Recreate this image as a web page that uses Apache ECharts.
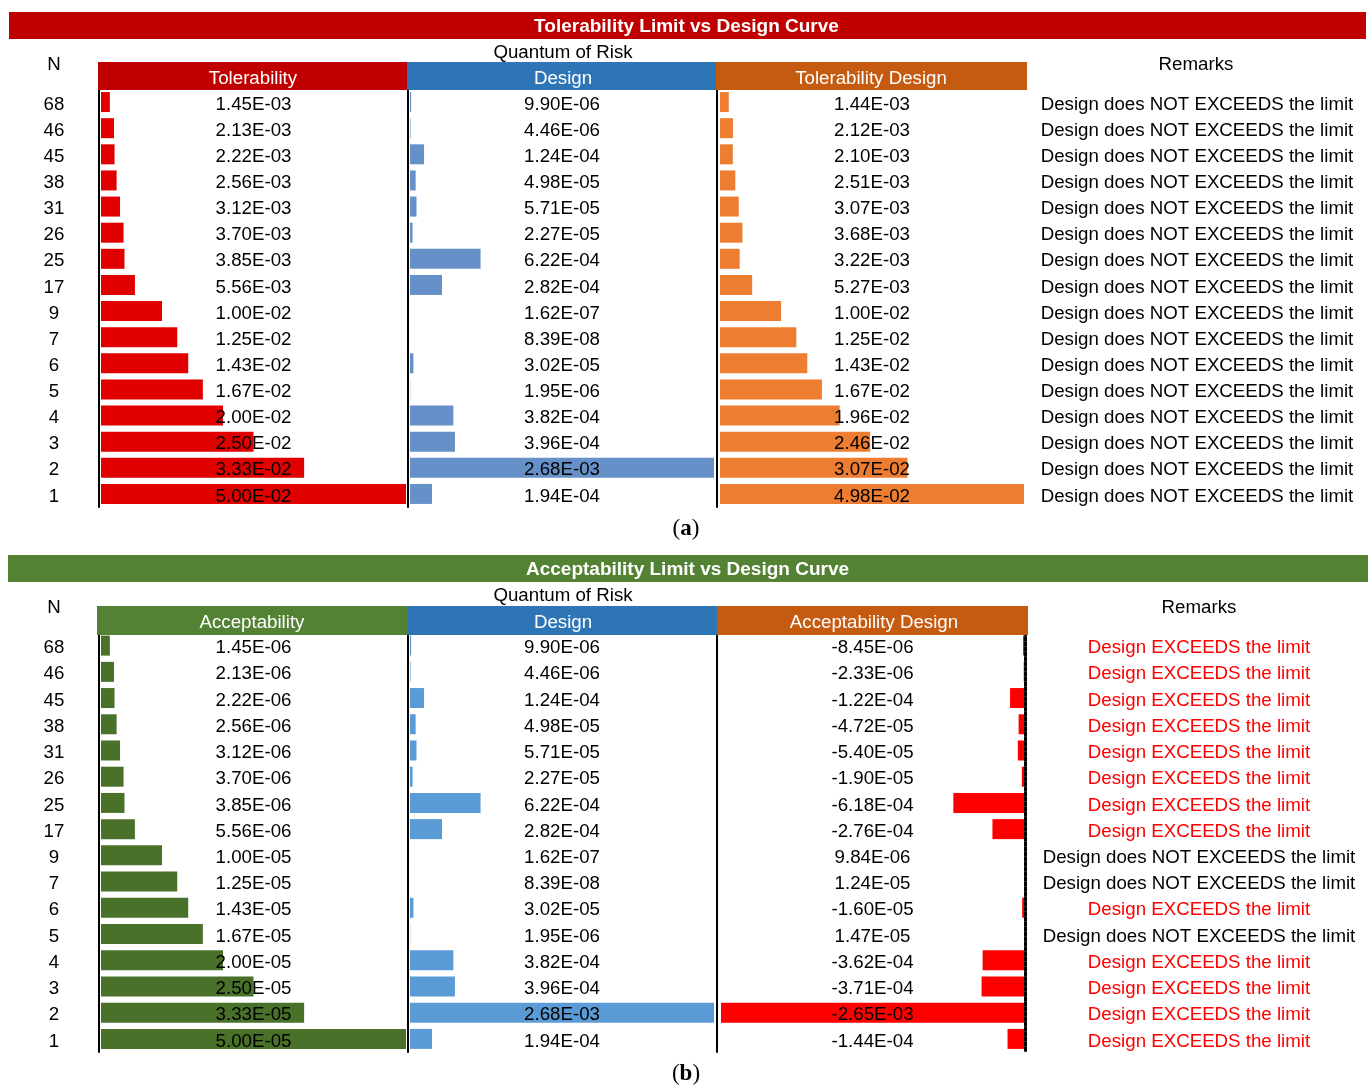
<!DOCTYPE html>
<html>
<head>
<meta charset="utf-8">
<title>Tolerability / Acceptability Limit vs Design Curve</title>
<script src="https://cdn.jsdelivr.net/npm/echarts@6/dist/echarts.min.js"></script>
<style>
  html, body { margin: 0; padding: 0; background: #fff; }
  #chart { width: 1370px; height: 1086px; }
</style>
</head>
<body>
<div id="chart"></div>
<script>
// ---- data ----
const nLabels = ['68', '46', '45', '38', '31', '26', '25', '17', '9', '7', '6', '5', '4', '3', '2', '1'];

const tolerability = [1.45e-3, 2.13e-3, 2.22e-3, 2.56e-3, 3.12e-3, 3.70e-3, 3.85e-3, 5.56e-3,
  1.00e-2, 1.25e-2, 1.43e-2, 1.67e-2, 2.00e-2, 2.50e-2, 3.33e-2, 5.00e-2];

const design = [9.90e-6, 4.46e-6, 1.24e-4, 4.98e-5, 5.71e-5, 2.27e-5, 6.22e-4, 2.82e-4,
  1.62e-7, 8.39e-8, 3.02e-5, 1.95e-6, 3.82e-4, 3.96e-4, 2.68e-3, 1.94e-4];

const tolerabilityDesign = [1.44e-3, 2.12e-3, 2.10e-3, 2.51e-3, 3.07e-3, 3.68e-3, 3.22e-3, 5.27e-3,
  1.00e-2, 1.25e-2, 1.43e-2, 1.67e-2, 1.96e-2, 2.46e-2, 3.07e-2, 4.98e-2];

const acceptability = [1.45e-6, 2.13e-6, 2.22e-6, 2.56e-6, 3.12e-6, 3.70e-6, 3.85e-6, 5.56e-6,
  1.00e-5, 1.25e-5, 1.43e-5, 1.67e-5, 2.00e-5, 2.50e-5, 3.33e-5, 5.00e-5];

const acceptabilityDesign = [-8.45e-6, -2.33e-6, -1.22e-4, -4.72e-5, -5.40e-5, -1.90e-5, -6.18e-4, -2.76e-4,
  9.84e-6, 1.24e-5, -1.60e-5, 1.47e-5, -3.62e-4, -3.71e-4, -2.65e-3, -1.44e-4];

const remarksA = tolerabilityDesign.map(v => v < 0 ? 'Design EXCEEDS the limit' : 'Design does NOT EXCEEDS the limit');
const remarksB = acceptabilityDesign.map(v => v < 0 ? 'Design EXCEEDS the limit' : 'Design does NOT EXCEEDS the limit');

// ---- helpers ----
const FONT = 'Liberation Sans, Arial, sans-serif';
const FS = 18.7;
const DY = 2.5;   // small downward nudge so text sits on the row centre

function sci(v) {
  const parts = v.toExponential(2).split('e');
  const e = parseInt(parts[1], 10);
  return parts[0] + 'E' + (e < 0 ? '-' : '+') + String(Math.abs(e)).padStart(2, '0');
}

const grids = [];
const xAxes = [];
const yAxes = [];
const series = [];

const hiddenBar = (gi, yi, data, label) => ({
  type: 'bar', xAxisIndex: gi, yAxisIndex: yi, data: data,
  barWidth: 20, barGap: '-100%', z: 3, silent: true,
  itemStyle: { color: 'rgba(0,0,0,0)' },
  label: Object.assign({ show: true, color: '#000', fontFamily: FONT, fontSize: FS, offset: [0, DY] }, label)
});

// one bar column: data bars, centred value text, and optional N / remark texts beside it
function addColumn(opt) {
  const gi = grids.length;
  grids.push({ left: opt.left, top: opt.top, width: opt.width, height: opt.height, containLabel: false });
  xAxes.push({ gridIndex: gi, type: 'value', min: opt.min, max: opt.max, show: false });
  const yi = yAxes.length;
  yAxes.push({
    gridIndex: gi, type: 'category', data: nLabels, inverse: true, position: 'left',
    offset: opt.lineOffset,
    axisLine: { show: true, onZero: false, lineStyle: { color: '#000', width: 2 } },
    axisTick: { show: false },
    axisLabel: { show: false },
    splitLine: { show: false }
  });
  if (opt.zeroLine) {
    yAxes.push({
      gridIndex: gi, type: 'category', data: nLabels, inverse: true, position: 'right',
      offset: 1.5,
      axisLine: { show: true, onZero: false, lineStyle: { color: '#000', width: 3, type: [3, 2] } },
      axisTick: { show: false },
      axisLabel: { show: false },
      splitLine: { show: false }
    });
  }
  // value bars
  series.push({
    type: 'bar', xAxisIndex: gi, yAxisIndex: yi, data: opt.values,
    barWidth: 20, barGap: '-100%', z: 2, silent: true,
    itemStyle: { color: opt.color }
  });
  // value text, centred across the column
  const extent = opt.min < 0 ? opt.min : opt.max;
  series.push(hiddenBar(gi, yi, opt.values.map(() => extent), {
    position: 'inside',
    formatter: (p) => sci(opt.values[p.dataIndex])
  }));
  // row numbers to the left of the first column
  if (opt.showN) {
    series.push(hiddenBar(gi, yi, nLabels.map(() => 0), {
      position: 'left', distance: opt.nDistance, align: 'center',
      formatter: (p) => nLabels[p.dataIndex]
    }));
  }
  // remarks to the right of the last column
  if (opt.remarks) {
    const rightEdge = opt.max;
    series.push(hiddenBar(gi, yi, opt.remarks.map((r) => ({
      value: rightEdge,
      label: { color: r.indexOf('NOT') >= 0 ? '#000' : '#FF0000' }
    })), {
      position: 'right', distance: opt.remarkDistance, align: 'center',
      formatter: (p) => opt.remarks[p.dataIndex]
    }));
  }
}

// ---- panel (a): tolerability ----
const topA = 89, hA = 418;
addColumn({ left: 101, top: topA, width: 305, height: hA, min: 0, max: 5.00e-2,
  values: tolerability, color: '#E00000', lineOffset: 2, showN: true, nDistance: 47 });
addColumn({ left: 410, top: topA, width: 304, height: hA, min: 0, max: 2.68e-3,
  values: design, color: '#6690C8', lineOffset: 2 });
addColumn({ left: 720, top: topA, width: 304, height: hA, min: 0, max: 4.98e-2,
  values: tolerabilityDesign, color: '#ED7D31', lineOffset: 3,
  remarks: remarksA, remarkDistance: 173 });

// ---- panel (b): acceptability ----
const topB = 632.5, hB = 419.5;
addColumn({ left: 101, top: topB, width: 305, height: hB, min: 0, max: 5.00e-5,
  values: acceptability, color: '#4A7129', lineOffset: 2.5, showN: true, nDistance: 47 });
addColumn({ left: 410, top: topB, width: 304, height: hB, min: 0, max: 2.68e-3,
  values: design, color: '#5B9BD5', lineOffset: 2 });
addColumn({ left: 721, top: topB, width: 303, height: hB, min: -2.65e-3, max: 0,
  values: acceptabilityDesign, color: '#FF0000', lineOffset: 4,
  remarks: remarksB, remarkDistance: 175, zeroLine: true });

// ---- title bars, column headers and captions ----
function txt(text, x, y, extra) {
  return { type: 'text', z: 10, style: Object.assign({
    text: text, x: x, y: y + 2, align: 'center', verticalAlign: 'middle',
    fontFamily: FONT, fontSize: FS, fill: '#000' }, extra || {}) };
}
function box(x1, x2, y, h, color) {
  return { type: 'rect', z: 5, shape: { x: x1, y: y, width: x2 - x1, height: h }, style: { fill: color } };
}
function caption(letter, x, y) {
  return { type: 'text', z: 10, style: {
    text: '{p|(}{b|' + letter + '}{p|)}', x: x, y: y + 2, align: 'center', verticalAlign: 'middle',
    rich: {
      p: { fontFamily: 'Liberation Serif, serif', fontSize: 23, fill: '#000' },
      b: { fontFamily: 'Liberation Serif, serif', fontSize: 23, fontWeight: 'bold', fill: '#000' }
    } } };
}

const graphics = [
  box(9, 1366, 12, 27, '#C00000'),
  txt('Tolerability Limit vs Design Curve', 686.5, 24.5, { fill: '#fff', fontWeight: 'bold', fontSize: 19 }),
  txt('N', 54, 63),
  txt('Quantum of Risk', 563, 51),
  txt('Remarks', 1196, 63),
  box(98, 407, 62, 28, '#C00000'),
  box(407, 716, 62, 28, '#2E75B6'),
  box(716, 1027, 62, 28, '#C55A11'),
  txt('Tolerability', 253, 77, { fill: '#fff' }),
  txt('Design', 563, 77, { fill: '#fff' }),
  txt('Tolerability Design', 871, 77, { fill: '#fff' }),
  caption('a', 686, 527),

  box(8, 1368, 555, 27, '#548235'),
  txt('Acceptability Limit vs Design Curve', 687.5, 567.5, { fill: '#fff', fontWeight: 'bold', fontSize: 19 }),
  txt('N', 54, 606),
  txt('Quantum of Risk', 563, 594),
  txt('Remarks', 1199, 606),
  box(97, 407, 606, 29, '#548235'),
  box(407, 717, 606, 29, '#2E75B6'),
  box(717, 1028, 606, 29, '#C55A11'),
  txt('Acceptability', 252, 620.5, { fill: '#fff' }),
  txt('Design', 563, 620.5, { fill: '#fff' }),
  txt('Acceptability Design', 874, 620.5, { fill: '#fff' }),
  caption('b', 686, 1072)
];

const chart = echarts.init(document.getElementById('chart'), null, { renderer: 'canvas' });
chart.setOption({
  animation: false,
  backgroundColor: '#fff',
  grid: grids,
  xAxis: xAxes,
  yAxis: yAxes,
  series: series,
  graphic: graphics
});
</script>
</body>
</html>
